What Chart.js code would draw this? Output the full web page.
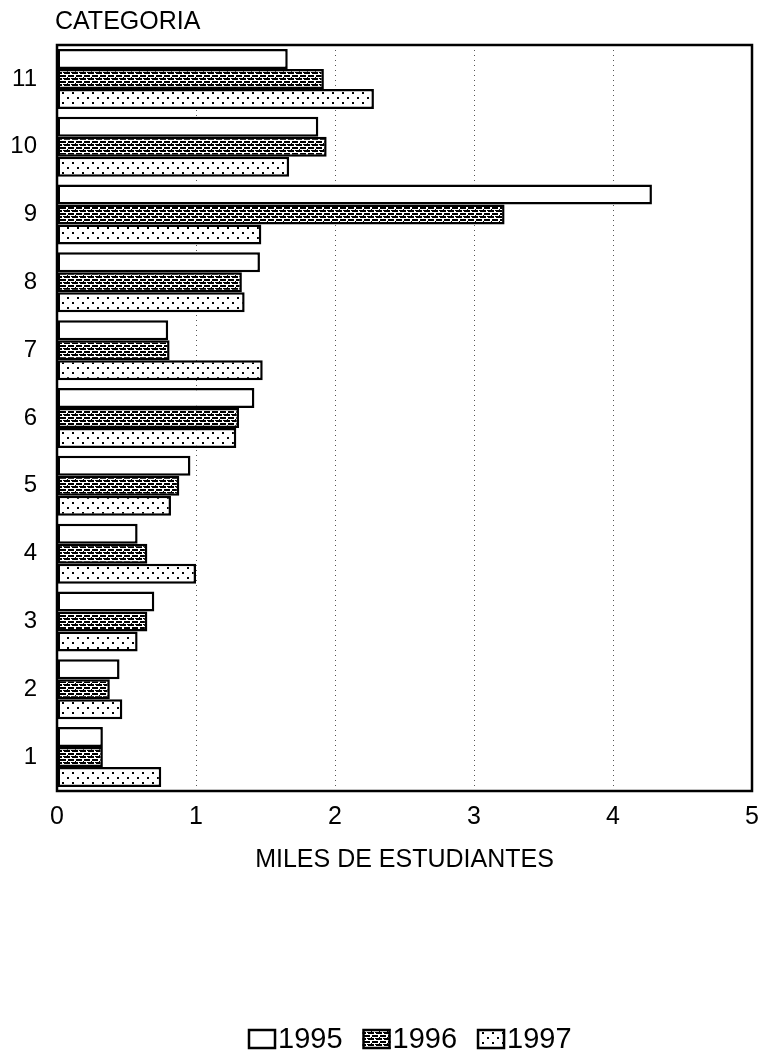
<!DOCTYPE html>
<html>
<head>
<meta charset="utf-8">
<script src="https://cdn.jsdelivr.net/npm/chart.js@4/dist/chart.umd.min.js"></script>
<style>
  html, body { margin: 0; padding: 0; background: #fff; }
  #wrap { width: 765px; height: 1055px; position: relative; }
</style>
</head>
<body>
<div id="wrap"><canvas id="c"></canvas></div>
<script>
// Students per category (thousands), category 1 .. 11
const categories = ['1', '2', '3', '4', '5', '6', '7', '8', '9', '10', '11'];
const seriesNames = ['1995', '1996', '1997'];
const values1995 = [0.33, 0.45, 0.70, 0.58, 0.96, 1.42, 0.80, 1.46, 4.28, 1.88, 1.66];
const values1996 = [0.33, 0.38, 0.65, 0.65, 0.88, 1.31, 0.81, 1.33, 3.22, 1.94, 1.92];
const values1997 = [0.75, 0.47, 0.58, 1.00, 0.82, 1.29, 1.48, 1.35, 1.47, 1.67, 2.28];
const xTickValues = [0, 1, 2, 3, 4, 5];
const yAxisTitle = 'CATEGORIA';
const xAxisTitle = 'MILES DE ESTUDIANTES';

const FONT = '"Liberation Sans", Arial, sans-serif';

// Monochrome fill patterns: plain, brick dashes, dots
function makePattern(kind) {
  const t = document.createElement('canvas');
  const w = kind === 'brick' ? 8 : 10;
  const h = kind === 'brick' ? 6 : 10;
  t.width = w; t.height = h;
  const g = t.getContext('2d');
  g.fillStyle = '#fff';
  g.fillRect(0, 0, w, h);
  g.fillStyle = '#000';
  if (kind === 'brick') {
    g.fillRect(0, 0, 6, 2);
    g.fillRect(4, 3, 4, 2);
    g.fillRect(0, 3, 2, 2);
    g.fillRect(7, 0, 1, 1);
    g.fillRect(3, 5, 1, 1);
  } else if (kind === 'dots') {
    g.fillRect(2, 2, 2, 2);
    g.fillRect(7, 7, 2, 2);
  }
  return g.createPattern(t, 'repeat');
}

const fills = [makePattern('plain'), makePattern('brick'), makePattern('dots')];

// Top-to-bottom order: category 11 first
const topDown = arr => arr.slice().reverse();
const seriesValues = [values1995, values1996, values1997];

const datasets = seriesNames.map((name, i) => ({
  label: name,
  data: topDown(seriesValues[i]),
  backgroundColor: fills[i],
  borderColor: '#000',
  borderWidth: 2.5,
  borderSkipped: false,
  barPercentage: 1.0,
  categoryPercentage: 0.885
}));

const decor = {
  id: 'decor',
  afterDraw(chart) {
    const ctx = chart.ctx;
    const a = chart.chartArea;
    ctx.save();
    // plot frame
    ctx.strokeStyle = '#000';
    ctx.lineWidth = 2.5;
    ctx.strokeRect(a.left, a.top, a.right - a.left, a.bottom - a.top);

    // axis titles
    ctx.fillStyle = '#000';
    ctx.font = '25px ' + FONT;
    ctx.textBaseline = 'middle';
    ctx.textAlign = 'left';
    ctx.fillText(yAxisTitle, a.left - 2, 22);
    ctx.textAlign = 'center';
    ctx.fillText(xAxisTitle, (a.left + a.right) / 2, 860);

    // legend
    ctx.font = '29px ' + FONT;
    ctx.textAlign = 'left';
    let x = 248;
    const boxW = 28, boxH = 20, boxY = 1029;
    chart.data.datasets.forEach(ds => {
      ctx.fillStyle = ds.backgroundColor;
      ctx.fillRect(x, boxY, boxW, boxH);
      ctx.lineWidth = 2.5;
      ctx.strokeStyle = '#000';
      ctx.strokeRect(x + 1, boxY + 1, boxW - 2, boxH - 2);
      ctx.fillStyle = '#000';
      ctx.fillText(ds.label, x + boxW + 2, boxY + boxH / 2 + 1);
      x += boxW + 2 + ctx.measureText(ds.label).width + 20;
    });
    ctx.restore();
  }
};

new Chart(document.getElementById('c'), {
  type: 'bar',
  data: { labels: topDown(categories), datasets },
  options: {
    indexAxis: 'y',
    responsive: true,
    maintainAspectRatio: false,
    animation: false,
    devicePixelRatio: 1,
    layout: { padding: { left: 0, top: 45, right: 13, bottom: 0 } },
    plugins: { legend: { display: false }, tooltip: { enabled: false } },
    scales: {
      x: {
        type: 'linear',
        min: xTickValues[0],
        max: xTickValues[xTickValues.length - 1],
        afterBuildTicks: s => { s.ticks = xTickValues.map(v => ({ value: v })); },
        afterFit: s => { s.height = 264; s.paddingLeft = 0; s.paddingRight = 0; },
        ticks: { color: '#000', font: { family: FONT, size: 25 }, padding: 11, maxRotation: 0 },
        grid: {
          drawTicks: false,
          lineWidth: 1,
          color: c => (c.tick && (c.tick.value === 0 || c.tick.value === 5)) ? 'rgba(0,0,0,0)' : '#555'
        },
        border: { display: false, dash: [1, 4] }
      },
      y: {
        type: 'category',
        afterFit: s => { s.width = 57; s.paddingTop = 0; s.paddingBottom = 0; },
        ticks: { color: '#000', font: { family: FONT, size: 24 }, padding: 20 },
        grid: { display: false, drawTicks: false },
        border: { display: false }
      }
    }
  },
  plugins: [decor]
});
</script>
</body>
</html>
